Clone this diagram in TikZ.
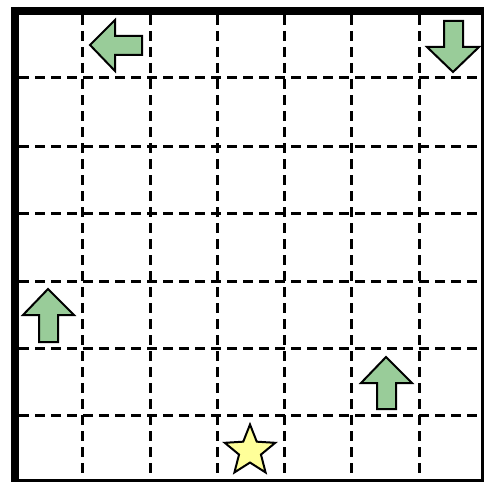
\documentclass[tikz,border=0pt]{standalone}
\usetikzlibrary{shapes.geometric}
\definecolor{arrowgreen}{RGB}{153,204,153}
\definecolor{staryellow}{RGB}{255,255,153}
\tikzset{
  gridline/.style={line width=3pt, dash pattern=on 10pt off 6pt},
  arrowshape/.style={fill=arrowgreen, draw=black, line width=2pt, line join=miter},
  starshape/.style={fill=staryellow, draw=black, line width=2pt}
}
\begin{document}
\begin{tikzpicture}[x=1pt,y=-1pt]
\useasboundingbox (0,0) rectangle (486,484);
\fill[white] (0,0) rectangle (486,484);
% dashed grid
\foreach \x in {82,150,217,284,351,419} {
  \draw[gridline] (\x,15) -- (\x,480);
}
\foreach \y in {78,146,213,281,348,415} {
  \draw[gridline] (19,\y) -- (482,\y);
}
% border
\draw[line width=3pt] (15,11) rectangle (482.5,480.5);
\draw[line width=8pt] (15,7) -- (15,482);
\draw[line width=8pt] (11,11) -- (484,11);
% left arrow
\draw[arrowshape] (90,45) -- (115,20) -- (115,36) -- (142,36) -- (142,55) -- (115,55) -- (115,71) -- cycle;
% down arrow
\draw[arrowshape] (453,72) -- (427,47) -- (444,47) -- (444,21) -- (463,21) -- (463,47) -- (479,47) -- cycle;
% up arrow left
\draw[arrowshape] (48,289) -- (74,315) -- (58,315) -- (58,342) -- (39,342) -- (39,315) -- (23,315) -- cycle;
% up arrow right
\draw[arrowshape] (386,357) -- (412,383) -- (396,383) -- (396,409) -- (377,409) -- (377,383) -- (361,383) -- cycle;
% star
\node[starshape, star, star points=5, star point ratio=2.3, minimum size=53pt, inner sep=0pt] (goal) at (250,451) {};
\end{tikzpicture}
\end{document}
